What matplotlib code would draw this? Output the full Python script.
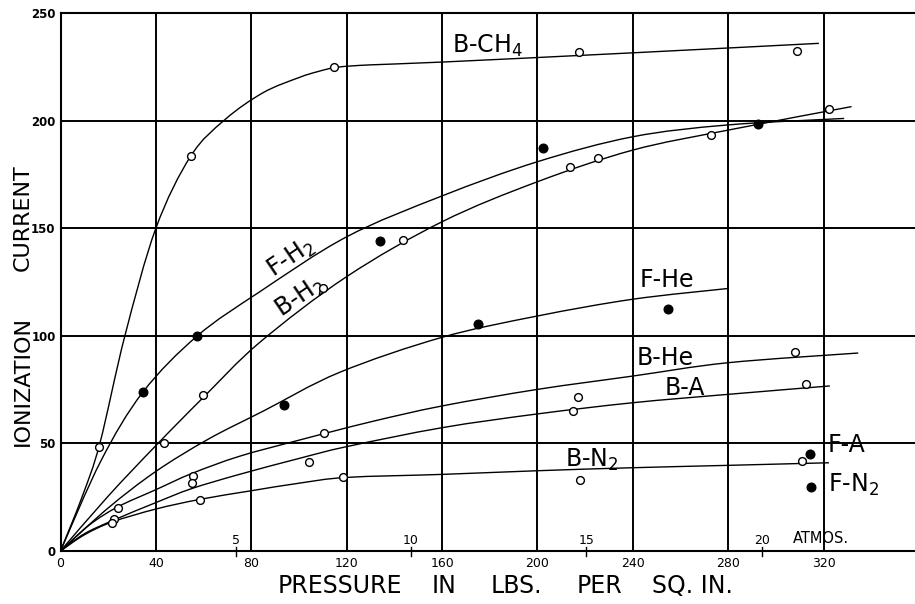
import numpy as np
import matplotlib
matplotlib.use("Agg")
import matplotlib.pyplot as plt
from matplotlib.path import Path
from matplotlib.patches import PathPatch

# measured points (pressure lbs/sq.in., ionization current)
b_ch4_x = [16, 54.6, 114.5, 217.4, 309]
b_ch4_y = [48.2, 183.6, 224.9, 232, 232.5]
f_h2_x = [34.6, 57.4, 134, 202.4, 292.6]
f_h2_y = [73.7, 99.9, 144.2, 187.1, 198.3]
b_h2_x = [43.5, 59.9, 110.2, 143.7, 213.6, 225.5, 272.6, 322.2]
b_h2_y = [50, 72.3, 122, 144.5, 178.4, 182.5, 193.3, 205.2]
f_he_x = [93.8, 175.2, 254.8]
f_he_y = [68, 105.5, 112.5]
b_he_x = [24.1, 55.4, 110.6, 217.1, 308]
b_he_y = [19.8, 34.9, 54.8, 71.7, 92.6]
b_a_x = [22.6, 55.1, 104.3, 215, 312.6]
b_a_y = [14.7, 31.7, 41.2, 65.2, 77.5]
b_n2_x = [21.7, 58.5, 118.6, 217.8, 310.8]
b_n2_y = [13.2, 23.7, 34.2, 33, 41.8]
f_a_x = [314.4]
f_a_y = [45.1]
f_n2_x = [314.7]
f_n2_y = [29.6]

# hand drawn curves
ch4_cx = [0, 9, 16.5, 27, 40, 54.6, 69, 85, 100, 108, 116, 130, 160, 240, 318]
ch4_cy = [0, 25, 50, 100, 150, 183.5, 200.5, 213, 220, 222.8, 224.8, 225.9, 227.2, 231.5, 235.9]
fh2_cx = [0, 17, 34.6, 57.4, 83.6, 120, 160, 200, 240, 280, 328.6]
fh2_cy = [0, 42, 73.9, 100, 120.5, 146, 165, 180.9, 192.5, 198, 201]
bh2_cx = [0, 20, 40, 60, 83.6, 120, 160, 200, 240, 280, 331.7]
bh2_cy = [0, 25.5, 49, 71.5, 97, 127.5, 153, 171.6, 186.3, 195.6, 206.5]
fhe_cx = [0, 20, 40, 62, 85, 117, 160, 200, 240, 280]
fhe_cy = [0, 20, 37, 52, 65, 83, 99.3, 109.2, 117, 122]
bhe_cx = [0, 12, 24, 40, 55, 75, 100, 130, 160, 200, 240, 280, 334.5]
bhe_cy = [0, 12, 20.5, 28.5, 36, 44, 51.5, 60, 67.4, 75.1, 81.3, 87.5, 92]
ba_cx = [0, 10, 22.6, 40, 55, 75, 100, 120, 160, 200, 240, 280, 322.6]
ba_cy = [0, 8, 14.5, 22.5, 29, 35.6, 43, 48.5, 57.3, 63.7, 68.9, 72.8, 76.7]
bn2_cx = [0, 10, 21.7, 40, 58.5, 80, 100, 120, 160, 200, 240, 280, 322.2]
bn2_cy = [0, 7.5, 13.5, 19.5, 24, 28, 31.5, 34.2, 35.6, 37.3, 38.7, 39.8, 41]

x_ticks = [0, 40, 80, 120, 160, 200, 240, 280, 320]
y_ticks = [0, 50, 100, 150, 200, 250]
atmos = [5, 10, 15, 20]
PSI_PER_ATM = 14.7
x_words = ['PRESSURE', 'IN', 'LBS.', 'PER', 'SQ. IN.']
x_word_pos = [91.2, 155.5, 180.5, 216.6, 248]


def smooth_path(xs, ys):
    # Catmull-Rom through the read points, drawn as bezier segments
    pts = np.column_stack([xs, ys]).astype(float)
    verts = [pts[0]]
    codes = [Path.MOVETO]
    n = len(pts)
    for i in range(n - 1):
        p0 = pts[i - 1] if i > 0 else pts[i]
        p1 = pts[i]
        p2 = pts[i + 1]
        p3 = pts[i + 2] if i + 2 < n else pts[i + 1]
        verts += [p1 + (p2 - p0) / 6, p2 - (p3 - p1) / 6, p2]
        codes += [Path.CURVE4] * 3
    return Path(verts, codes)


fig = plt.figure(figsize=(9.15, 6.04), dpi=100)
ax = fig.add_axes([60.5 / 915, 53 / 604, 854.5 / 915, 538 / 604])
ax.set_xlim(0, 358.3)
ax.set_ylim(0, 250)

ax.set_xticks(x_ticks)
ax.set_yticks(y_ticks)
ax.grid(True, color='black', linewidth=1.4)
ax.set_axisbelow(True)
ax.tick_params(length=0)
ax.tick_params(axis='x', pad=4.5, labelsize=9)
ax.tick_params(axis='y', pad=3.5, labelsize=8.5)
for lab in ax.get_yticklabels():
    lab.set_fontweight('bold')
for side in ['left', 'bottom', 'top']:
    ax.spines[side].set_linewidth(1.5)
ax.spines['right'].set_visible(False)

for cx, cy in [(ch4_cx, ch4_cy), (fh2_cx, fh2_cy), (bh2_cx, bh2_cy), (fhe_cx, fhe_cy),
               (bhe_cx, bhe_cy), (ba_cx, ba_cy), (bn2_cx, bn2_cy)]:
    ax.add_patch(PathPatch(smooth_path(cx, cy), facecolor='none', edgecolor='black', linewidth=1.0))

for px, py in [(b_ch4_x, b_ch4_y), (b_h2_x, b_h2_y), (b_he_x, b_he_y), (b_a_x, b_a_y), (b_n2_x, b_n2_y)]:
    ax.plot(px, py, 'o', ms=5.6, mfc='white', mec='black', mew=1.0, zorder=5)
for px, py in [(f_h2_x, f_h2_y), (f_he_x, f_he_y), (f_a_x, f_a_y), (f_n2_x, f_n2_y)]:
    ax.plot(px, py, 'o', ms=6.2, color='black', zorder=5)

lab_kw = dict(fontsize=17, ha='left', va='baseline')
ax.text(164.3, 231.3, 'B-CH$_4$', **lab_kw)
ax.text(243, 122.7, 'F-He', **lab_kw)
ax.text(241.6, 86.4, 'B-He', **lab_kw)
ax.text(253.5, 72.5, 'B-A', **lab_kw)
ax.text(211.5, 38.9, 'B-N$_2$', **lab_kw)
ax.text(321.7, 46.1, 'F-A', **lab_kw)
ax.text(321.9, 27.6, 'F-N$_2$', **lab_kw)
ax.text(96.5, 136.4, 'F-H$_2$', fontsize=17, rotation=34, rotation_mode='anchor',
        ha='center', va='center')
ax.text(100.5, 118, 'B-H$_2$', fontsize=17, rotation=34, rotation_mode='anchor',
        ha='center', va='center')

# atmospheres scale along the bottom
for a in atmos:
    ax.plot([a * PSI_PER_ATM] * 2, [-2.5, 2], color='black', lw=1.0, clip_on=False)
    ax.text(a * PSI_PER_ATM, 4.9, str(a), fontsize=9, ha='center', va='center')
ax.text(318.9, 5.6, 'ATMOS.', fontsize=10.5, ha='center', va='center')

for word, xw in zip(x_words, x_word_pos):
    ax.text(xw, -19.5, word, fontsize=17, ha='left', va='baseline', clip_on=False)
ax.text(-15.9, 78.8, 'IONIZATION', fontsize=16, rotation=90, ha='center', va='center', clip_on=False)
ax.text(-15.9, 154.7, 'CURRENT', fontsize=16, rotation=90, ha='center', va='center', clip_on=False)

fig.savefig('out.png', dpi=100)
